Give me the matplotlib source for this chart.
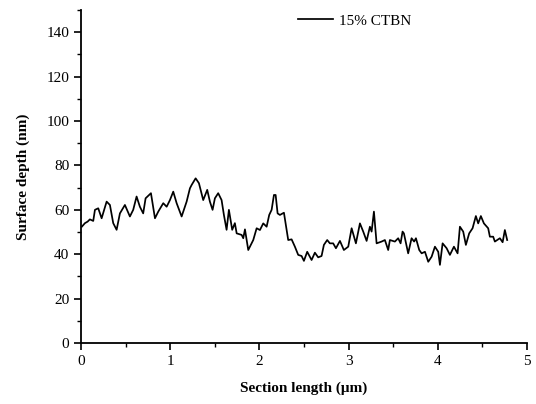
import matplotlib
matplotlib.use("Agg")
import matplotlib.pyplot as plt
from matplotlib.ticker import MultipleLocator

# section profile
section_um = [0.01, 0.045, 0.075, 0.10, 0.138, 0.157, 0.194, 0.232, 0.288, 0.325,
              0.362, 0.40, 0.437, 0.493, 0.549, 0.586, 0.624, 0.661, 0.698, 0.725,
              0.785, 0.83, 0.867, 0.923, 0.961, 0.998, 1.035, 1.073, 1.129, 1.185,
              1.222, 1.241, 1.286, 1.323, 1.371, 1.416, 1.446, 1.476, 1.502, 1.539,
              1.577, 1.603, 1.633, 1.659, 1.696, 1.726, 1.746, 1.802, 1.82, 1.839,
              1.876, 1.932, 1.97, 2.007, 2.044, 2.082, 2.111, 2.138, 2.164, 2.183,
              2.205, 2.231, 2.276, 2.324, 2.362, 2.399, 2.436, 2.474, 2.50, 2.537,
              2.586, 2.623, 2.66, 2.698, 2.724, 2.761, 2.791, 2.828, 2.859, 2.904,
              2.948, 2.997, 3.035, 3.083, 3.128, 3.165, 3.203, 3.24, 3.259, 3.285,
              3.315, 3.371, 3.408, 3.445, 3.464, 3.52, 3.557, 3.584, 3.606, 3.621,
              3.669, 3.707, 3.736, 3.756, 3.793, 3.82, 3.857, 3.894, 3.932, 3.969,
              4.006, 4.025, 4.055, 4.10, 4.137, 4.182, 4.223, 4.249, 4.286, 4.316,
              4.353, 4.391, 4.428, 4.454, 4.484, 4.518, 4.566, 4.585, 4.622, 4.641,
              4.697, 4.728, 4.753, 4.779]
depth_nm = [52.4, 54.0, 54.7, 55.7, 55.0, 60.0, 60.7, 56.2, 63.7, 62.2,
            54.0, 51.0, 58.4, 62.2, 57.0, 60.0, 66.0, 61.4, 58.4, 65.2,
            67.5, 56.2, 59.2, 63.0, 61.4, 64.4, 68.2, 63.0, 57.0, 63.7,
            69.7, 71.2, 74.2, 72.0, 64.4, 69.0, 63.7, 60.0, 65.2, 67.5,
            64.4, 57.7, 51.0, 60.0, 51.0, 54.0, 49.4, 48.7, 47.2, 51.2,
            41.9, 46.4, 51.7, 50.9, 53.9, 52.4, 57.7, 60.0, 66.7, 66.7,
            58.4, 57.7, 58.7, 46.4, 46.7, 43.4, 39.7, 39.2, 37.0, 41.1,
            37.4, 40.7, 38.6, 39.2, 44.2, 46.4, 44.9, 44.9, 42.7, 46.0,
            41.9, 43.4, 51.7, 44.9, 53.9, 50.2, 46.0, 52.4, 50.2, 59.2,
            44.9, 45.7, 46.4, 41.9, 46.4, 45.7, 47.2, 44.9, 50.2, 49.4,
            40.4, 47.2, 45.7, 47.2, 41.9, 40.4, 41.1, 36.6, 38.9, 43.4,
            41.1, 35.2, 44.9, 42.7, 39.7, 43.4, 40.4, 52.4, 50.2, 44.2,
            49.4, 51.7, 57.2, 53.9, 57.2, 53.9, 51.7, 47.9, 47.9, 45.7,
            47.2, 45.4, 50.9, 46.4]

plt.rcParams['font.family'] = ['Liberation Serif', 'DejaVu Serif']

fig = plt.figure(figsize=(5.36, 4.04), dpi=100)
ax = fig.add_axes([0.151, 0.151, 0.832, 0.824])

ax.plot(section_um, depth_nm, color='black', lw=1.25, label='15% CTBN')

ax.set_xlim(0, 5)
ax.set_ylim(0, 150)
ax.xaxis.set_major_locator(MultipleLocator(1))
ax.xaxis.set_minor_locator(MultipleLocator(0.5))
ax.yaxis.set_major_locator(MultipleLocator(20))
ax.yaxis.set_minor_locator(MultipleLocator(10))
ax.set_yticks(range(0, 141, 20))

for s in ['top', 'right']:
    ax.spines[s].set_visible(False)
for s in ['left', 'bottom']:
    ax.spines[s].set_linewidth(1.3)

ax.tick_params(which='major', direction='out', length=5, width=1.2, labelsize=11)
ax.tick_params(which='minor', direction='out', length=3, width=1.0)

ax.set_xlabel('Section length (\u03bcm)', fontsize=11, fontweight='bold', labelpad=10)
ax.set_ylabel('Surface depth (nm)', fontsize=11, fontweight='bold', labelpad=12)

ax.legend(loc='upper left', bbox_to_anchor=(0.455, 1.03), frameon=False,
          fontsize=11, handlelength=2.3, handletextpad=0.4)

fig.savefig('out.png', dpi=100)
